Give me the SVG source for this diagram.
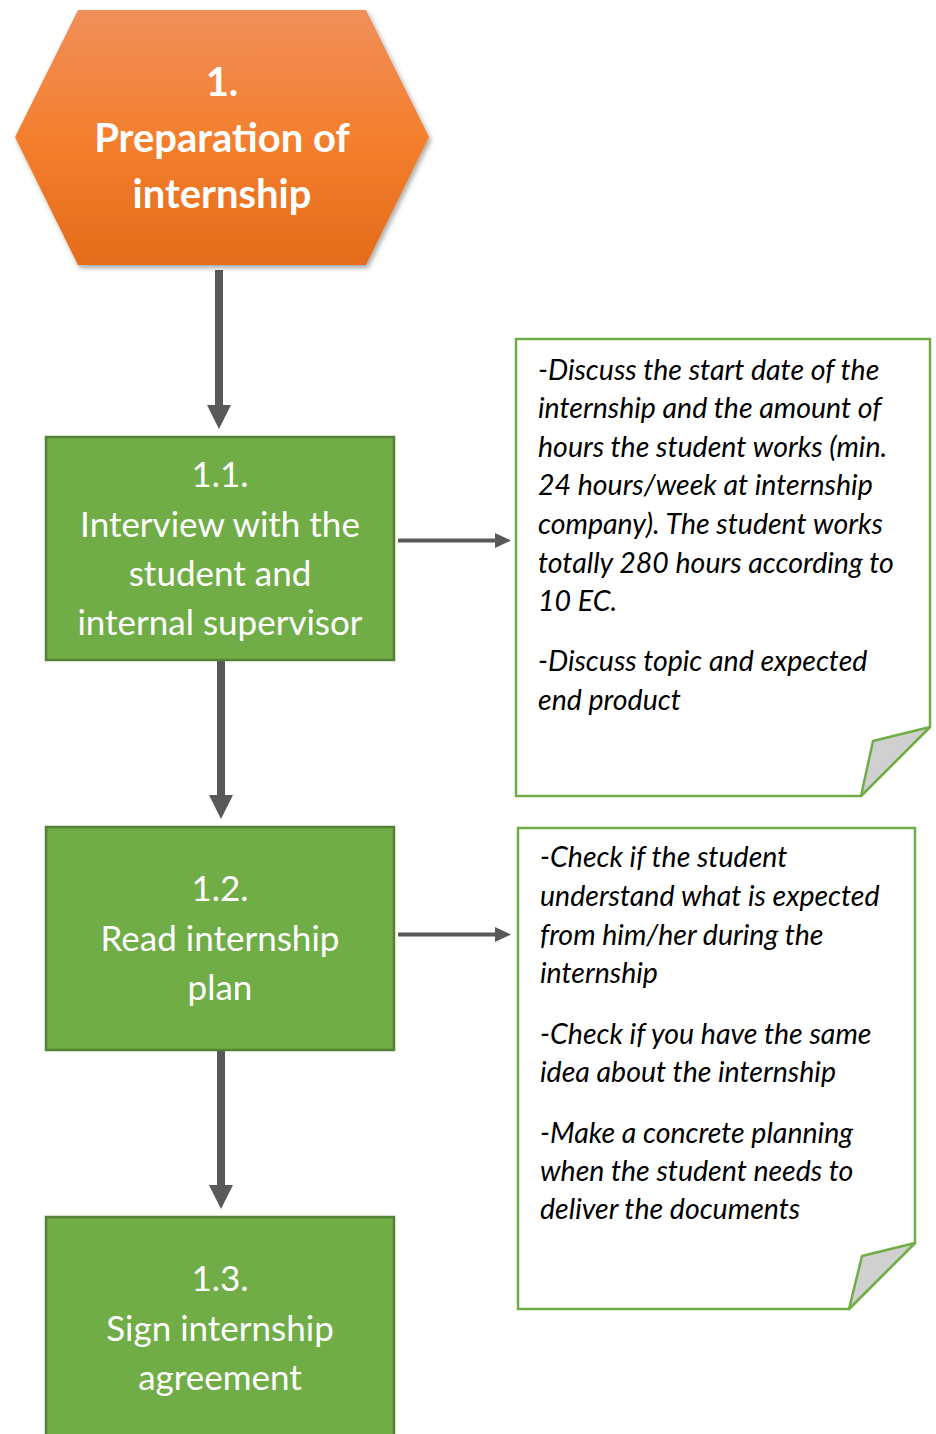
<svg xmlns="http://www.w3.org/2000/svg" width="936" height="1434" viewBox="0 0 936 1434">
<style>
.box{fill:#70AD47;stroke:#538135;stroke-width:2.5}
.btxt{font-family:Lato,"Open Sans",sans-serif;font-size:35px;fill:#ffffff;text-anchor:middle}
.htxt{font-family:Lato,"Open Sans",sans-serif;font-size:40px;font-weight:bold;fill:#ffffff;text-anchor:middle}
.note{fill:#ffffff;stroke:#70AD47;stroke-width:2.5}
.fold{fill:#D0D0D0;stroke:#70AD47;stroke-width:2.5;stroke-linejoin:round}
.ntxt{font-family:Lato,"Open Sans",sans-serif;font-size:28.5px;font-style:italic;fill:#000000}
.conn{stroke:#595959;fill:none}
.head{fill:#595959}
</style>
<defs>
<linearGradient id="og" x1="0" y1="0" x2="0" y2="1">
<stop offset="0" stop-color="#F08F5A"/>
<stop offset="0.5" stop-color="#F47F2E"/>
<stop offset="1" stop-color="#E46C1B"/>
</linearGradient>
<filter id="sh" x="-10%" y="-10%" width="120%" height="120%">
<feDropShadow dx="2" dy="3" stdDeviation="2.5" flood-color="#000" flood-opacity="0.35"/>
</filter>
</defs>
<g id="connectors">
<line class="conn" x1="219" y1="270" x2="219" y2="408" stroke-width="8"/>
<polygon class="head" points="207,405 231,405 219,429"/>
<line class="conn" x1="221" y1="661" x2="221" y2="798" stroke-width="8"/>
<polygon class="head" points="209,795 233,795 221,819"/>
<line class="conn" x1="221" y1="1051" x2="221" y2="1188" stroke-width="8"/>
<polygon class="head" points="209,1185 233,1185 221,1209"/>
<line class="conn" x1="398" y1="540.5" x2="497" y2="540.5" stroke-width="4"/>
<polygon class="head" points="495,533 511,540.5 495,548"/>
<line class="conn" x1="398" y1="934.5" x2="497" y2="934.5" stroke-width="4"/>
<polygon class="head" points="495,927 511,934.5 495,942"/>
</g>
<g id="n1">
<polygon points="78,10 366,10 429,137 366,265 78,265 15,137" fill="url(#og)" filter="url(#sh)"/>
<text class="htxt" x="222" y="96">1.</text>
<text class="htxt" x="222" y="152">Preparation of</text>
<text class="htxt" x="222" y="208">internship</text>
</g>
<g id="n11">
<rect class="box" x="46" y="437" width="348" height="223"/>
<text class="btxt" x="220" y="487">1.1.</text>
<text class="btxt" x="220" y="537">Interview with the</text>
<text class="btxt" x="220" y="586">student and</text>
<text class="btxt" x="220" y="635">internal supervisor</text>
</g>
<g id="n12">
<rect class="box" x="46" y="827" width="348" height="223"/>
<text class="btxt" x="220" y="901">1.2.</text>
<text class="btxt" x="220" y="951">Read internship</text>
<text class="btxt" x="220" y="1000">plan</text>
</g>
<g id="n13">
<rect class="box" x="46" y="1217" width="348" height="240"/>
<text class="btxt" x="220" y="1291">1.3.</text>
<text class="btxt" x="220" y="1341">Sign internship</text>
<text class="btxt" x="220" y="1390">agreement</text>
</g>
<g id="note1">
<path class="note" d="M516,339 H930 V727 L861,796 H516 Z"/>
<polygon class="fold" points="930,727 873,741 861,796"/>
<text class="ntxt" x="538" y="379.5">-Discuss the start date of the</text>
<text class="ntxt" x="538" y="418.1">internship and the amount of</text>
<text class="ntxt" x="538" y="456.7">hours the student works (min.</text>
<text class="ntxt" x="538" y="495.3">24 hours/week at internship</text>
<text class="ntxt" x="538" y="533.9">company). The student works</text>
<text class="ntxt" x="538" y="572.5">totally 280 hours according to</text>
<text class="ntxt" x="538" y="611.1">10 EC.</text>
<text class="ntxt" x="538" y="670.5">-Discuss topic and expected</text>
<text class="ntxt" x="538" y="709.5">end product</text>
</g>
<g id="note2">
<path class="note" d="M518,828 H915 V1243 L849,1309 H518 Z"/>
<polygon class="fold" points="915,1243 862,1256 849,1309"/>
<text class="ntxt" x="540" y="866.5">-Check if the student</text>
<text class="ntxt" x="540" y="905.5">understand what is expected</text>
<text class="ntxt" x="540" y="944.5">from him/her during the</text>
<text class="ntxt" x="540" y="982.5">internship</text>
<text class="ntxt" x="540" y="1043.5">-Check if you have the same</text>
<text class="ntxt" x="540" y="1081.5">idea about the internship</text>
<text class="ntxt" x="540" y="1142.5">-Make a concrete planning</text>
<text class="ntxt" x="540" y="1180.5">when the student needs to</text>
<text class="ntxt" x="540" y="1218.5">deliver the documents</text>
</g>
</svg>
